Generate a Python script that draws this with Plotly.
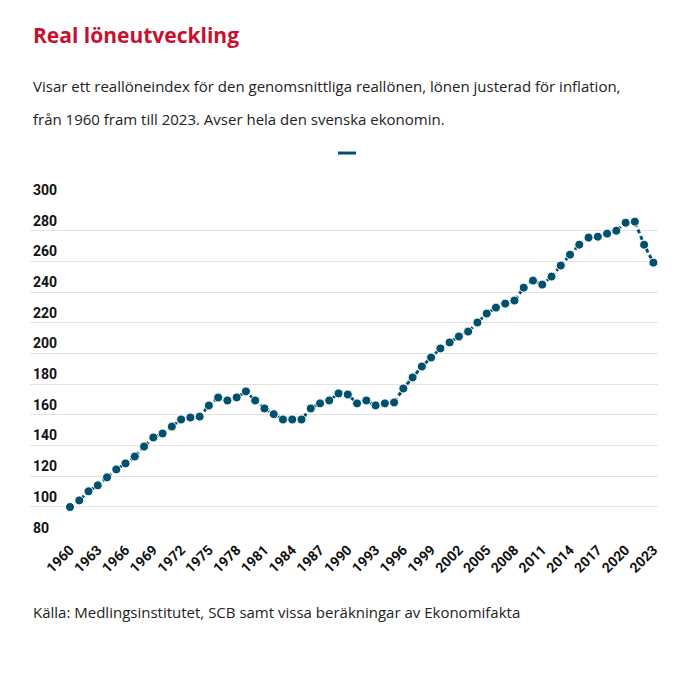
import plotly.graph_objects as go

years = list(range(1960, 2024))
values = [100.0, 104.3, 110.2, 114.1, 119.3, 124.5, 128.4, 132.9, 139.4, 145.3,
          147.9, 152.4, 157.0, 158.3, 158.9, 166.1, 171.3, 169.4, 171.4, 175.3,
          169.4, 164.2, 160.5, 157.0, 157.0, 157.0, 164.2, 167.5, 169.4, 174.0,
          173.3, 167.5, 169.4, 166.2, 167.5, 168.1, 177.2, 184.4, 191.5, 197.4,
          203.3, 207.2, 211.1, 214.3, 220.2, 226.0, 229.9, 232.5, 234.5, 242.9,
          247.5, 244.9, 250.1, 257.3, 264.4, 270.9, 275.5, 276.1, 278.1, 280.0,
          285.2, 285.9, 270.9, 259.2]
x_ticks = list(range(1960, 2024, 3))
y_ticks = list(range(80, 301, 20))

title = "Real löneutveckling"
subtitle1 = "Visar ett reallöneindex för den genomsnittliga reallönen, lönen justerad för inflation,"
subtitle2 = "från 1960 fram till 2023. Avser hela den svenska ekonomin."
source = "Källa: Medlingsinstitutet, SCB samt vissa beräkningar av Ekonomifakta"

LINE = "#00506e"
RED = "#c8102e"
TEXT = "#222222"
TEXT_FONT = "Open Sans, Noto Sans, sans-serif"
TICK_FONT = "Roboto, sans-serif"

OFF = 8  # page body offset
W = H = 700 - OFF
# desired positions in reference (page) pixels
PL, PR, PT, PB = 30, 658, 200, 538.3


def fx(x):
    return x - OFF


L, T = fx(PL), fx(PT)
R = W - fx(PR)
B = H - fx(PB)
PW, PH = W - L - R, H - T - B


def px(x):
    return (fx(x) - L) / PW


def py(y):
    return (H - B - fx(y)) / PH


fig = go.Figure()
fig.add_trace(go.Scatter(
    x=years, y=values, mode="lines+markers",
    line=dict(color=LINE, width=3, dash="4px,3px"),
    marker=dict(color=LINE, size=9, line=dict(color="white", width=1)),
    showlegend=False, name="",
))

fig.update_layout(
    width=W, height=H,
    margin=dict(l=L, r=R, t=T, b=B, autoexpand=False),
    paper_bgcolor="white", plot_bgcolor="white",
    xaxis=dict(
        range=[1955.68, 2023.5], tickvals=x_ticks, ticktext=[str(t) for t in x_ticks],
        tickangle=-45, showgrid=False, zeroline=False, showline=False, automargin=False,
        tickfont=dict(family=TICK_FONT, size=14, color="#111111", weight="bold"),
    ),
    yaxis=dict(
        range=[79.8, 300], tickvals=y_ticks, showgrid=True, gridcolor="#e3e3e3",
        gridwidth=1, zeroline=False, showline=False, automargin=False,
        ticklabelposition="inside", ticklabelshift=-10, ticklabelstandoff=0,
        ticklabeloverflow="allow",
        tickfont=dict(family=TICK_FONT, size=14, color="#111111", weight="bold"),
    ),
    shapes=[dict(type="line", xref="paper", yref="paper",
                 x0=px(338), x1=px(356), y0=py(153), y1=py(153),
                 line=dict(color=LINE, width=3))],
    annotations=[
        dict(text=f"<b>{title}</b>", xref="paper", yref="paper", x=px(31), y=py(35),
             xanchor="left", yanchor="middle", showarrow=False,
             font=dict(family=TEXT_FONT, size=21, color=RED)),
        dict(text=subtitle1, xref="paper", yref="paper", x=px(31), y=py(86),
             xanchor="left", yanchor="middle", showarrow=False,
             font=dict(family=TEXT_FONT, size=15, color=TEXT)),
        dict(text=subtitle2, xref="paper", yref="paper", x=px(31), y=py(119),
             xanchor="left", yanchor="middle", showarrow=False,
             font=dict(family=TEXT_FONT, size=15, color=TEXT)),
        dict(text=source, xref="paper", yref="paper", x=px(31), y=py(612),
             xanchor="left", yanchor="middle", showarrow=False,
             font=dict(family=TEXT_FONT, size=15, color=TEXT)),
    ],
)

fig.write_html("out.html")
